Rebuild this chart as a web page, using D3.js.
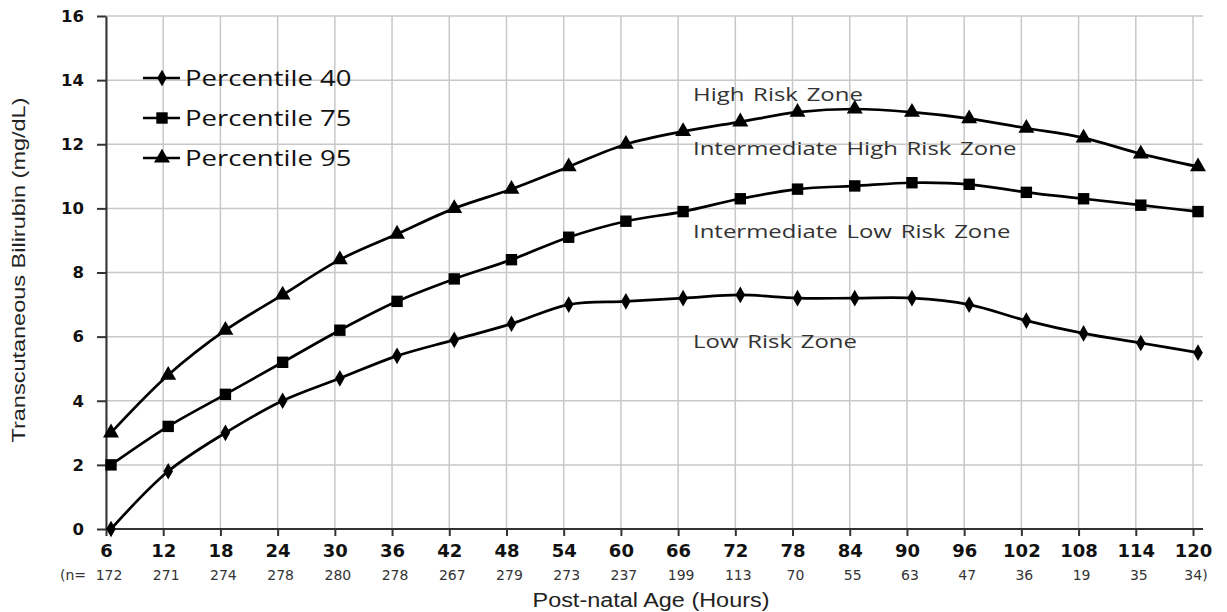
<!DOCTYPE html>
<html>
<head>
<meta charset="utf-8">
<script src="https://cdn.jsdelivr.net/npm/d3@7"></script>
<style>
  body { margin: 0; background: #fff; }
  svg { display: block; }
</style>
</head>
<body>
<div id="chart"></div>
<script>
// data
const hours = [6, 12, 18, 24, 30, 36, 42, 48, 54, 60, 66, 72, 78, 84, 90, 96, 102, 108, 114, 120];
const counts = [172, 271, 274, 278, 280, 278, 267, 279, 273, 237, 199, 113, 70, 55, 63, 47, 36, 19, 35, 34];
const p40 = [0, 1.8, 3.0, 4.0, 4.7, 5.4, 5.9, 6.4, 7.0, 7.1, 7.2, 7.3, 7.2, 7.2, 7.2, 7.0, 6.5, 6.1, 5.8, 5.5];
const p75 = [2.0, 3.2, 4.2, 5.2, 6.2, 7.1, 7.8, 8.4, 9.1, 9.6, 9.9, 10.3, 10.6, 10.7, 10.8, 10.75, 10.5, 10.3, 10.1, 9.9];
const p95 = [3.0, 4.8, 6.2, 7.3, 8.4, 9.2, 10.0, 10.6, 11.3, 12.0, 12.4, 12.7, 13.0, 13.1, 13.0, 12.8, 12.5, 12.2, 11.7, 11.3];
const yTicks = [0, 2, 4, 6, 8, 10, 12, 14, 16];
const seriesNames = ["Percentile 40", "Percentile 75", "Percentile 95"];
const zones = [
  { label: "High Risk Zone", y: 13.35 },
  { label: "Intermediate High Risk Zone", y: 11.66 },
  { label: "Intermediate Low Risk Zone", y: 9.08 },
  { label: "Low Risk Zone", y: 5.64 }
];

const W = 1227, H = 612;
const margin = { top: 16, right: 24, bottom: 83, left: 106 };
const width = W - margin.left - margin.right,
      height = H - margin.top - margin.bottom;

const svg = d3.select("#chart")
  .append("svg")
  .attr("width", W)
  .attr("height", H)
  .append("g")
  .attr("transform", `translate(${margin.left},${margin.top})`);

const x = d3.scaleLinear().domain([6, 120]).range([0, width - 10]);
const y = d3.scaleLinear().domain([0, 16]).range([height, 0]);

// the source picture is stretched sideways, so widen the text to match
function stretch(sel, k) {
  sel.each(function () {
    const w = this.getComputedTextLength();
    d3.select(this).attr("textLength", w * k).attr("lengthAdjust", "spacingAndGlyphs");
  });
}

// grid
svg.append("g")
  .selectAll("line")
  .data(yTicks)
  .join("line")
  .attr("x1", 0).attr("x2", width)
  .attr("y1", d => y(d)).attr("y2", d => y(d))
  .attr("stroke", "#c8c8c8").attr("stroke-width", 1.5);
svg.append("g")
  .selectAll("line")
  .data(hours)
  .join("line")
  .attr("x1", d => x(d)).attr("x2", d => x(d))
  .attr("y1", 0).attr("y2", height)
  .attr("stroke", "#c8c8c8").attr("stroke-width", 1.5);

// axes
const xAxis = svg.append("g")
  .attr("transform", `translate(0,${height})`)
  .call(d3.axisBottom(x).tickValues(hours).tickSize(7).tickSizeOuter(0).tickPadding(8));
xAxis.select(".domain").remove();
xAxis.append("line").attr("x1", 0).attr("x2", width).attr("stroke", "#333").attr("stroke-width", 2);
xAxis.selectAll(".tick line").attr("stroke", "#333").attr("stroke-width", 2);
xAxis.selectAll(".tick text")
  .attr("fill", "#111")
  .style("font-family", "DejaVu Sans")
  .style("font-weight", "bold")
  .style("font-size", "18px");

const yAxis = svg.append("g")
  .call(d3.axisLeft(y).tickValues(yTicks).tickSize(9).tickSizeOuter(0).tickPadding(13));
yAxis.select(".domain").attr("stroke", "#333").attr("stroke-width", 2);
yAxis.selectAll(".tick line").attr("stroke", "#333").attr("stroke-width", 2);
yAxis.selectAll(".tick text")
  .attr("fill", "#111")
  .style("font-family", "DejaVu Sans")
  .style("font-weight", "bold")
  .style("font-size", "16.5px");

// n counts row
const nRow = svg.append("g")
  .style("font-family", "DejaVu Sans")
  .style("font-size", "14px")
  .attr("fill", "#333");
nRow.selectAll("text")
  .data(hours)
  .join("text")
  .attr("x", d => x(d) + 3)
  .attr("y", height + 51)
  .attr("text-anchor", "middle")
  .text((d, i) => i === counts.length - 1 ? counts[i] + ")" : counts[i]);
nRow.append("text")
  .attr("x", -33).attr("y", height + 51)
  .attr("text-anchor", "middle")
  .text("(n=");

// axis titles
svg.append("text")
  .attr("x", 545).attr("y", height + 78)
  .attr("text-anchor", "middle")
  .style("font-family", "Liberation Sans")
  .style("font-size", "20px")
  .attr("fill", "#222")
  .attr("textLength", 237)
  .attr("lengthAdjust", "spacingAndGlyphs")
  .text("Post-natal Age (Hours)");
svg.append("text")
  .attr("transform", `translate(-81,254) rotate(-90)`)
  .attr("text-anchor", "middle")
  .style("font-family", "Liberation Sans")
  .style("font-size", "18px")
  .attr("fill", "#222")
  .attr("textLength", 345)
  .attr("lengthAdjust", "spacingAndGlyphs")
  .text("Transcutaneous Bilirubin (mg/dL)");

// series
const shapes = [d3.symbolDiamond, d3.symbolSquare, d3.symbolTriangle];
const sizes = [80, 130, 110];
const allSeries = [p40, p75, p95];
const line = d3.line()
  .x((d, i) => x(hours[i]))
  .y(d => y(d))
  .curve(d3.curveCatmullRom.alpha(0.5));

const plot = svg.append("g").attr("transform", "translate(5,0)");
allSeries.forEach((vals, s) => {
  plot.append("path")
    .datum(vals)
    .attr("d", line)
    .attr("fill", "none")
    .attr("stroke", "#000")
    .attr("stroke-width", 2.7);
  plot.selectAll(null)
    .data(vals)
    .join("path")
    .attr("transform", (d, i) => `translate(${x(hours[i])},${y(d)})`)
    .attr("d", d3.symbol().type(shapes[s]).size(sizes[s]))
    .attr("fill", "#000");
});

// legend
const legend = svg.append("g");
seriesNames.forEach((name, s) => {
  const ly = 62 + s * 40;
  legend.append("line")
    .attr("x1", 37).attr("x2", 74)
    .attr("y1", ly).attr("y2", ly)
    .attr("stroke", "#000").attr("stroke-width", 2.7);
  legend.append("path")
    .attr("transform", `translate(56,${ly})`)
    .attr("d", d3.symbol().type(shapes[s]).size(sizes[s]))
    .attr("fill", "#000");
  legend.append("text")
    .attr("x", 79).attr("y", ly + 8)
    .style("font-family", "Open Sans")
    .style("font-size", "22px")
    .attr("fill", "#111")
    .text(name)
    .call(stretch, 1.25);
});

// zone labels
svg.append("g")
  .selectAll("text")
  .data(zones)
  .join("text")
  .attr("x", 587)
  .attr("y", d => y(d.y))
  .style("font-family", "Open Sans")
  .style("font-size", "19px")
  .style("word-spacing", "2px")
  .attr("fill", "#333")
  .text(d => d.label)
  .call(stretch, 1.26);
</script>
</body>
</html>
